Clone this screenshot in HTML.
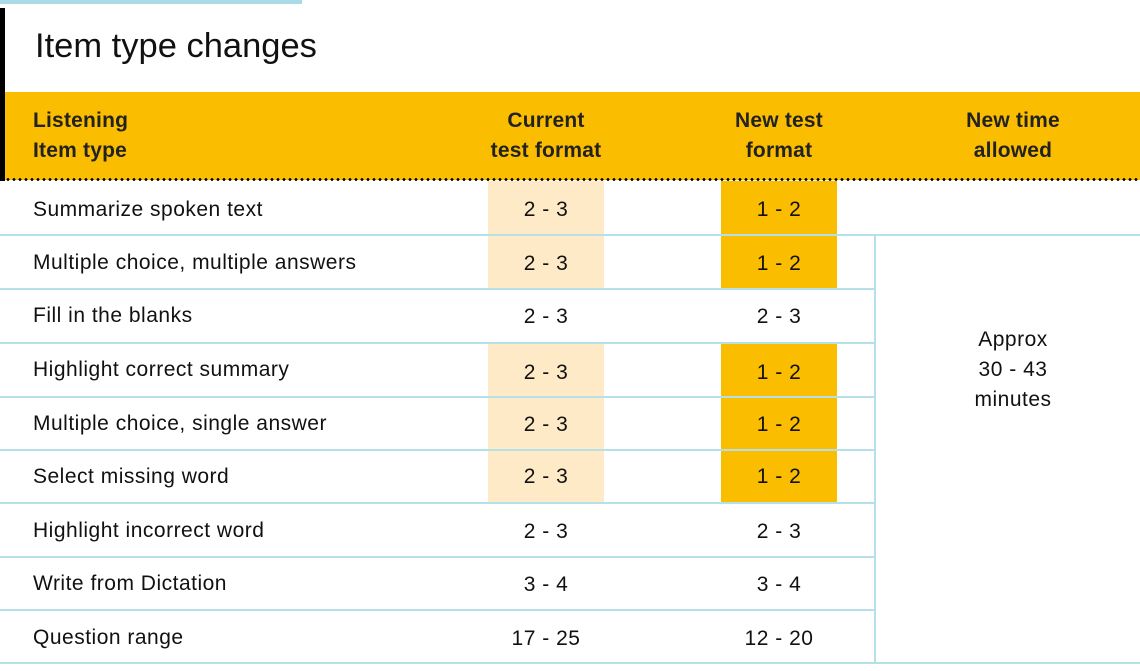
<!DOCTYPE html>
<html><head><style>
body{margin:0;width:1140px;height:671px;background:#fff;position:relative;overflow:hidden;font-family:"Liberation Sans","DejaVu Sans",sans-serif;color:#111}
div{position:absolute}
.t{font-size:21px;line-height:24px;letter-spacing:0.5px}
.c{text-align:center;width:200px}
.h{font-size:21px;line-height:30px;font-weight:bold;color:#222;letter-spacing:0.2px}
.hl{background:#b6e0e8;height:2px}
</style></head><body>
<div style="left:0;top:0;width:302px;height:4px;background:#a9dbe6"></div>
<div style="left:0;top:8px;width:5px;height:173px;background:#000"></div>
<div style="left:35px;top:26px;font-size:34.5px;line-height:40px;color:#111">Item type changes</div>
<div style="left:5px;top:92px;width:1135px;height:88px;background:#fbbd00"></div>
<div style="left:5px;top:178px;width:1135px;height:3px;background-image:radial-gradient(circle,#000 1.3px,transparent 1.5px);background-size:6px 3px"></div>
<div class="h" style="left:33px;top:106px">Listening<br>Item type</div>
<div class="h c" style="left:446px;top:106px">Current<br>test format</div>
<div class="h c" style="left:679px;top:106px">New test<br>format</div>
<div class="h c" style="left:913px;top:106px">New time<br>allowed</div>

<div style="left:488px;top:181px;width:116px;height:54px;background:#feeac6"></div>
<div style="left:721px;top:181px;width:116px;height:54px;background:#fbbd00"></div>
<div style="left:488px;top:236px;width:116px;height:52px;background:#feeac6"></div>
<div style="left:721px;top:236px;width:116px;height:52px;background:#fbbd00"></div>
<div style="left:488px;top:343px;width:116px;height:160px;background:#feeac6"></div>
<div style="left:721px;top:343px;width:116px;height:160px;background:#fbbd00"></div>

<div class="hl" style="left:0;top:234px;width:1140px"></div>
<div class="hl" style="left:0;top:288px;width:875px"></div>
<div class="hl" style="left:0;top:342px;width:875px"></div>
<div class="hl" style="left:0;top:396px;width:875px"></div>
<div class="hl" style="left:0;top:449px;width:875px"></div>
<div class="hl" style="left:0;top:502px;width:875px"></div>
<div class="hl" style="left:0;top:556px;width:875px"></div>
<div class="hl" style="left:0;top:609px;width:875px"></div>
<div class="hl" style="left:0;top:662px;width:1140px"></div>
<div style="left:874px;top:235px;width:2px;height:428px;background:#b6e0e8"></div>

<div class="t" style="left:33px;top:198px">Summarize spoken text</div>
<div class="t c" style="left:446px;top:198px">2 - 3</div>
<div class="t c" style="left:679px;top:198px">1 - 2</div>
<div class="t" style="left:33px;top:251px">Multiple choice, multiple answers</div>
<div class="t c" style="left:446px;top:252px">2 - 3</div>
<div class="t c" style="left:679px;top:252px">1 - 2</div>
<div class="t" style="left:33px;top:304px">Fill in the blanks</div>
<div class="t c" style="left:446px;top:305px">2 - 3</div>
<div class="t c" style="left:679px;top:305px">2 - 3</div>
<div class="t" style="left:33px;top:358px">Highlight correct summary</div>
<div class="t c" style="left:446px;top:361px">2 - 3</div>
<div class="t c" style="left:679px;top:361px">1 - 2</div>
<div class="t" style="left:33px;top:412px">Multiple choice, single answer</div>
<div class="t c" style="left:446px;top:413px">2 - 3</div>
<div class="t c" style="left:679px;top:413px">1 - 2</div>
<div class="t" style="left:33px;top:465px">Select missing word</div>
<div class="t c" style="left:446px;top:465px">2 - 3</div>
<div class="t c" style="left:679px;top:465px">1 - 2</div>
<div class="t" style="left:33px;top:519px">Highlight incorrect word</div>
<div class="t c" style="left:446px;top:520px">2 - 3</div>
<div class="t c" style="left:679px;top:520px">2 - 3</div>
<div class="t" style="left:33px;top:572px">Write from Dictation</div>
<div class="t c" style="left:446px;top:573px">3 - 4</div>
<div class="t c" style="left:679px;top:573px">3 - 4</div>
<div class="t" style="left:33px;top:626px">Question range</div>
<div class="t c" style="left:446px;top:627px">17 - 25</div>
<div class="t c" style="left:679px;top:627px">12 - 20</div>
<div class="t c" style="left:913px;top:325px;line-height:30px">Approx<br>30 - 43<br>minutes</div>
</body></html>
